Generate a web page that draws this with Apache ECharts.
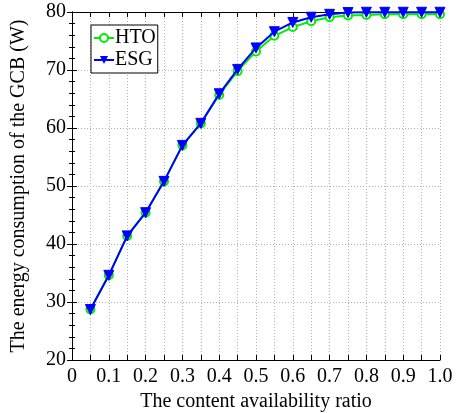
<!DOCTYPE html>
<html><head><meta charset="utf-8">
<script src="https://cdn.jsdelivr.net/npm/echarts@6/dist/echarts.min.js"></script>
<style>html,body{margin:0;padding:0;background:#fff}#c{width:456px;height:413px}</style>
</head><body><div id="c"></div>
<script>
const xValues = [0.05,0.1,0.15,0.2,0.25,0.3,0.35,0.4,0.45,0.5,0.55,0.6,0.65,0.7,0.75,0.8,0.85,0.9,0.95,1.0];
const htoValues = [28.7,34.6,41.4,45.4,50.8,57.0,60.8,65.7,69.8,73.2,75.9,77.4,78.4,79.1,79.4,79.5,79.6,79.6,79.6,79.6];
const esgValues = [28.7,34.6,41.4,45.4,50.8,57.0,60.8,65.9,70.1,73.8,76.6,78.2,79.1,79.6,79.9,79.95,79.95,79.95,79.95,79.95];
const seriesNames = ['HTO','ESG'];
const xTitle = 'The content availability ratio';
const yTitle = 'The energy consumption of the GCB (W)';

const font = '"Liberation Serif", "DejaVu Serif", serif';
const chart = echarts.init(document.getElementById('c'), null, {renderer:'canvas'});
const dotted = {show:true, lineStyle:{color:'#b0b0b0', type:[1,2], width:1}};
chart.setOption({
  animation:false,
  grid:{left:72, right:16, top:12, bottom:53, outerBoundsMode:'none', containLabel:false},
  legend:{
    orient:'vertical', left:91, top:25, data:seriesNames,
    borderColor:'#000', borderWidth:1, backgroundColor:'#fff',
    padding:[3,2,3,2], itemGap:2, itemWidth:20, itemHeight:10,
    textStyle:{fontFamily:font, fontSize:20, color:'#000', padding:[0,0,0,-4]}
  },
  xAxis:[{
    type:'value', min:0, max:1, interval:0.1,
    name:xTitle, nameLocation:'middle', nameGap:31,
    nameTextStyle:{fontFamily:font, fontSize:20, color:'#000'},
    axisLine:{lineStyle:{color:'#000', width:1}},
    axisTick:{inside:true, length:5, lineStyle:{color:'#000'}},
    minorTick:{show:true, splitNumber:2, length:5, lineStyle:{color:'#000'}},
    splitLine:dotted, minorSplitLine:dotted,
    axisLabel:{fontFamily:font, fontSize:20, color:'#000', margin:7,
      formatter:v=>{ if(Math.abs(v)<1e-9) return '0'; return (Math.round(v*10)/10).toFixed(1);} }
  },{
    type:'value', position:'top', min:0, max:1, interval:0.1,
    axisLine:{show:true, lineStyle:{color:'#000', width:1}},
    axisTick:{show:true, inside:true, length:5, lineStyle:{color:'#000'}},
    minorTick:{show:true, splitNumber:2, length:5, lineStyle:{color:'#000'}},
    axisLabel:{show:false}, splitLine:{show:false}
  }],
  yAxis:[{
    type:'value', min:20, max:80, interval:10,
    name:yTitle, nameLocation:'middle', nameGap:43,
    nameTextStyle:{fontFamily:font, fontSize:20, color:'#000'},
    axisLine:{show:true, lineStyle:{color:'#000', width:1}},
    axisTick:{show:true, inside:true, length:5, lineStyle:{color:'#000'}},
    minorTick:{show:true, splitNumber:5, length:3, lineStyle:{color:'#000'}},
    splitLine:dotted,
    axisLabel:{fontFamily:font, fontSize:20, color:'#000', margin:6}
  },{
    type:'value', position:'right', min:20, max:80, interval:10,
    axisLine:{show:true, lineStyle:{color:'#000', width:1}},
    axisTick:{show:true, inside:true, length:5, lineStyle:{color:'#000'}},
    minorTick:{show:true, splitNumber:5, length:3, lineStyle:{color:'#000'}},
    axisLabel:{show:false}, splitLine:{show:false}
  }],
  series:[{
    name:seriesNames[0], type:'line',
    data:xValues.map((x,i)=>[x,htoValues[i]]),
    symbol:'emptyCircle', symbolSize:8,
    lineStyle:{color:'#00ee00', width:2},
    itemStyle:{color:'#00ee00', borderColor:'#00ee00', borderWidth:1.5},
    z:2
  },{
    name:seriesNames[1], type:'line',
    data:xValues.map((x,i)=>[x,esgValues[i]]),
    symbol:'triangle', symbolRotate:180, symbolSize:10,
    lineStyle:{color:'#0000ff', width:2},
    itemStyle:{color:'#0000ff', borderColor:'#0000ff'},
    z:3
  }]
});
</script></body></html>
